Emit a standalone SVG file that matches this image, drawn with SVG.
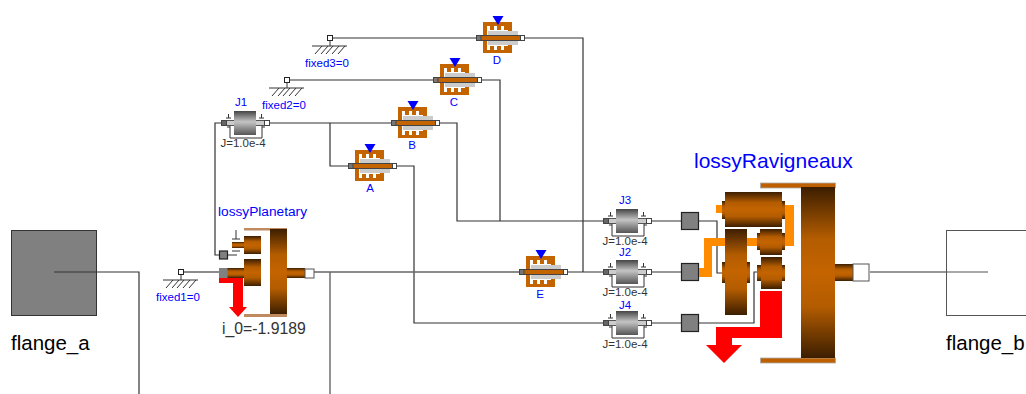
<svg xmlns="http://www.w3.org/2000/svg" width="1026" height="394" viewBox="0 0 1026 394">
<style>
text{font-family:"Liberation Sans",Arial,sans-serif}
.w{fill:none;stroke:#333;stroke-width:1.2}
.wg{fill:none;stroke:#666;stroke-width:1.4}
.b{fill:#0000ff}
.k{fill:#333}
.s10{font-size:11.500px}
.m{text-anchor:middle}
.g{fill:url(#gear);stroke:none}
.port{fill:#808080;stroke:#222;stroke-width:1.2}
.wp{fill:#fff;stroke:#555;stroke-width:1}
.ring{fill:#bf8a60}
.tick{fill:none;stroke:#333;stroke-width:1}
</style>
<defs>
<linearGradient id="gear" x1="0" y1="0" x2="0" y2="1"><stop offset="0" stop-color="#3c1e00"/><stop offset=".3" stop-color="#b35c00"/><stop offset=".5" stop-color="#c46400"/><stop offset=".7" stop-color="#b35c00"/><stop offset="1" stop-color="#3c1e00"/></linearGradient>
<linearGradient id="grey" x1="0" y1="0" x2="0" y2="1"><stop offset="0" stop-color="#444"/><stop offset=".45" stop-color="#c4c4c4"/><stop offset="1" stop-color="#555"/></linearGradient>
<g id="brake">
<rect x="7" y="-16" width="29" height="31" fill="#c46400"/>
<path d="M11-3V-12H14V-8H18V-12H21V-8H25V-12H28V-8H32V-3Z" fill="#fff"/>
<path d="M11 3V12H14V8H18V12H21V8H25V12H28V8H32V3Z" fill="#fff"/>
<rect x="12" y="-7" width="30" height="4" fill="#ccc"/><rect x="12" y="3" width="30" height="4" fill="#ccc"/>
<rect x=".5" y="-2.500" width="48" height="5" fill="#c46400" stroke="#444"/>
<rect x=".5" y="-2.500" width="4.500" height="5" fill="#777" stroke="#444"/>
<rect x="44.500" y="-2.500" width="4" height="5" fill="#fff" stroke="#444"/>
<path d="M16.500-22h11l-5.500 9z" fill="#0000ff"/>
</g>
<g id="inertia">
<rect x=".5" y="-2.500" width="48" height="5" fill="#ccc" stroke="#555"/>
<rect x=".5" y="-2.500" width="5" height="5" fill="#666" stroke="#444"/>
<rect x="43.500" y="-2.500" width="5" height="5" fill="#fff" stroke="#444"/>
<rect x="13" y="-12" width="22" height="24" fill="url(#grey)"/>
<path class="tick" d="M5-5H10M7.500-5V-9M38-5H43M40.500-5V-9M9 3V15H41V3M6 4H9M41 4H44"/>
</g>
<g id="fixed">
<rect x="-2.500" y="-2.500" width="5" height="5" fill="#fff" stroke="#222"/>
<path class="tick" d="M0 2.500V8M-18 8H17M-8 8L-15 16M3 8L-4 16M-2 8L-9 16M9 8L2 16M15 8L8 16"/>
</g>
</defs>
<g id="connectors">
<path class="w" d="M54 272H139V394M870 272H988"/>
<path class="w" d="M330 38H476M523 38H583V272M287 80H434M481 80H500V221M439 123H457V221H603M566 272H603M268 123H391M330 123V166H348M396 166H414V323H603"/>
<path class="w" d="M221 123H215V255H219"/>
<path class="wg" d="M181 272H219M314 272H519M330 272V394"/>
<path class="w" d="M651 221H681M651 272H681M651 323H681M699 221H717V273H722M699 323H754V272H757"/>
</g>
<g id="flange_a"><rect x="11.500" y="230.500" width="85" height="85" fill="#808080" stroke="#333"/><path stroke="#333" stroke-width="1.200" d="M54 272H97"/><text x="11" y="350" font-size="20.500" fill="#000">flange_a</text></g>
<g id="flange_b"><rect x="946.500" y="230.500" width="90" height="85" fill="#fff" stroke="#555"/><path stroke="#555" stroke-width="1.200" d="M946 272H988"/><text x="946" y="350" font-size="20.500" fill="#000">flange_b</text></g>
<g id="fixed1"><use href="#fixed" x="181" y="272"/><text class="b s10" x="156" y="301">fixed1=0</text></g>
<g id="fixed2"><use href="#fixed" x="287" y="80"/><text class="b s10" x="262" y="109">fixed2=0</text></g>
<g id="fixed3"><use href="#fixed" x="330" y="38"/><text class="b s10" x="305" y="67">fixed3=0</text></g>
<g id="J1"><use href="#inertia" x="221" y="123"/><text class="b s10 m" x="241" y="106">J1</text><text class="k s10 m" x="243" y="147">J=1.0e-4</text></g>
<g id="J3"><use href="#inertia" x="603" y="221"/><text class="b s10 m" x="625" y="204">J3</text><text class="k s10 m" x="625" y="245">J=1.0e-4</text></g>
<g id="J2"><use href="#inertia" x="603" y="272"/><text class="b s10 m" x="625" y="256">J2</text><text class="k s10 m" x="625" y="295.500">J=1.0e-4</text></g>
<g id="J4"><use href="#inertia" x="603" y="323"/><text class="b s10 m" x="625" y="308.500">J4</text><text class="k s10 m" x="625" y="348">J=1.0e-4</text></g>
<g id="A"><use href="#brake" x="348" y="166"/><text class="b s10 m" x="370" y="192">A</text></g>
<g id="B"><use href="#brake" x="391" y="123"/><text class="b s10 m" x="412" y="149">B</text></g>
<g id="C"><use href="#brake" x="433" y="80"/><text class="b s10 m" x="454" y="106">C</text></g>
<g id="D"><use href="#brake" x="476" y="38"/><text class="b s10 m" x="497" y="64">D</text></g>
<g id="E"><use href="#brake" x="519" y="272"/><text class="b s10 m" x="540" y="298">E</text></g>
<g id="port1"><rect class="port" x="681.500" y="212.500" width="17" height="17"/></g>
<g id="port2"><rect class="port" x="681.500" y="263.500" width="17" height="17"/></g>
<g id="port3"><rect class="port" x="681.500" y="314.500" width="17" height="17"/></g>
<g id="lossyPlanetary">
<text class="b" x="218" y="216" font-size="13.700">lossyPlanetary</text>
<rect class="ring" x="244" y="228" width="43" height="2.500"/><rect class="ring" x="244" y="314" width="43" height="3"/>
<rect class="g" x="270" y="229" width="17" height="85"/>
<rect class="g" x="287" y="268" width="18" height="10"/>
<rect class="g" x="227" y="268" width="17" height="10"/>
<rect class="g" x="244" y="259" width="17" height="27"/>
<rect class="g" x="244" y="236" width="17" height="18"/>
<rect class="g" x="232" y="242" width="12" height="6"/>
<path class="tick" d="M232 239H240M236 239V230M227 255H237M232 251H240"/>
<rect x="219" y="268" width="8.500" height="10" fill="#808080"/>
<rect class="port" x="219.500" y="251" width="8" height="8"/>
<rect class="wp" x="305" y="269" width="9" height="9"/>
<path fill="#f00" d="M219 278H243V307H247L238 317L229 307H233V283H219Z"/>
<text fill="#333" x="222" y="334" font-size="15.800">i_0=-1.9189</text>
</g>
<g id="lossyRavigneaux">
<text class="b" x="694" y="168" font-size="21">lossyRavigneaux</text>
<rect x="760.500" y="183" width="75" height="5" fill="#bf6000" stroke="#aaa" stroke-width=".8"/>
<rect x="760.500" y="358" width="75" height="5" fill="#bf6000" stroke="#aaa" stroke-width=".8"/>
<rect class="g" x="801" y="187" width="34" height="171"/>
<rect class="g" x="835" y="264" width="18" height="17"/>
<rect class="wp" x="853" y="264" width="16" height="17"/>
<path fill="#ff8c00" d="M716 205H723V213H716ZM785 205H794V246H782V238H785ZM699 268H704V238H757V246H712V277H699Z"/>
<rect class="g" x="722" y="201" width="63" height="18"/>
<rect class="g" x="725" y="192" width="57" height="35"/>
<rect class="g" x="722" y="262" width="28" height="21"/>
<rect class="g" x="725" y="229" width="22" height="86"/>
<rect class="g" x="757" y="233" width="28" height="17"/>
<rect class="g" x="760" y="229" width="22" height="26"/>
<rect class="g" x="757" y="265" width="28" height="16"/>
<rect class="g" x="761" y="257" width="21" height="32"/>
<path fill="#f00" d="M760 291H782V338H732V345H742L724 363L706 345H716V327H760Z"/>
</g>
</svg>
